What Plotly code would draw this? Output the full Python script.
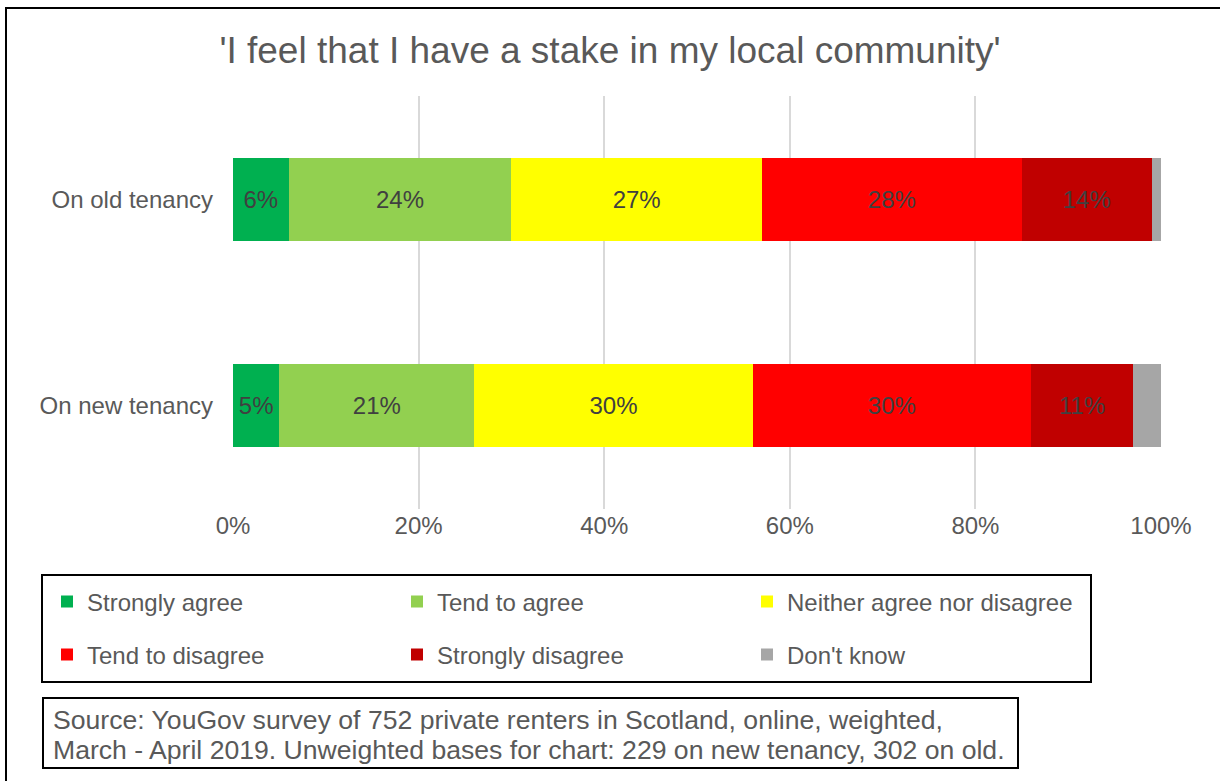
import plotly.graph_objects as go

# Survey responses (% of renters), by tenancy type
tenancies = ["On old tenancy", "On new tenancy"]
responses = ["Strongly agree", "Tend to agree", "Neither agree nor disagree",
             "Tend to disagree", "Strongly disagree", "Don't know"]
old_tenancy = [6, 24, 27, 28, 14, 1]
new_tenancy = [5, 21, 30, 30, 11, 3]
colours = ["#00B050", "#92D050", "#FFFF00", "#FF0000", "#C00000", "#A6A6A6"]
tick_values = [0, 20, 40, 60, 80, 100]
source_lines = [
    "Source: YouGov survey of 752 private renters in Scotland, online, weighted,",
    "March - April 2019. Unweighted bases for chart: 229 on new tenancy, 302 on old.",
]

W, H = 1220, 781
L, R, T, B = 233, 1161, 96, 509  # plot area in pixels
FONT = "Liberation Sans"
GREY = "#595959"


def px_x(p):
    return (p - L) / (R - L)


def px_y(p):
    return (B - p) / (B - T)


fig = go.Figure()
for i, name in enumerate(responses):
    vals = [old_tenancy[i], new_tenancy[i]]
    labels = [f"{v}%" for v in vals] if name != "Don't know" else ["", ""]
    fig.add_trace(go.Bar(
        name=name,
        y=tenancies,
        x=vals,
        orientation="h",
        marker=dict(color=colours[i], line=dict(width=0)),
        text=labels,
        textposition="inside",
        insidetextanchor="middle",
        textangle=0,
        constraintext="none",
        textfont=dict(family=FONT, size=24, color="#404040"),
        legend="legend" if i < 3 else "legend2",
        hoverinfo="skip",
    ))

legend_common = dict(
    orientation="h",
    xanchor="left",
    yanchor="middle",
    entrywidth=305,
    entrywidthmode="pixels",
    font=dict(family=FONT, size=24, color=GREY),
    bgcolor="rgba(0,0,0,0)",
    borderwidth=0,
    traceorder="normal",
    itemclick=False,
    itemdoubleclick=False,
)

shapes = [
    # outer chart border
    dict(type="rect", xref="paper", yref="paper",
         x0=px_x(6), x1=px_x(1240), y0=px_y(8), y1=px_y(800),
         line=dict(color="#000000", width=2), fillcolor="rgba(0,0,0,0)", layer="below"),
    # legend box
    dict(type="rect", xref="paper", yref="paper",
         x0=px_x(42), x1=px_x(1091), y0=px_y(575), y1=px_y(682),
         line=dict(color="#000000", width=2), fillcolor="rgba(0,0,0,0)"),
    # source note box
    dict(type="rect", xref="paper", yref="paper",
         x0=px_x(43), x1=px_x(1018), y0=px_y(698), y1=px_y(768),
         line=dict(color="#000000", width=2), fillcolor="rgba(0,0,0,0)"),
]

annotations = [
    dict(xref="paper", yref="paper",
         x=px_x(51), y=px_y(yc),
         xanchor="left", yanchor="middle", align="left",
         showarrow=False, text=line,
         font=dict(family=FONT, size=26.6, color=GREY))
    for line, yc in zip(source_lines, [720, 750])
]

fig.update_layout(
    width=W, height=H,
    margin=dict(l=L, r=W - R, t=T, b=H - B, autoexpand=False),
    paper_bgcolor="#FFFFFF",
    plot_bgcolor="#FFFFFF",
    barmode="stack",
    bargap=0.6,
    font=dict(family=FONT, color=GREY),
    title=dict(
        text="'I feel that I have a stake in my local community'",
        x=0.5, xanchor="center",
        y=1 - 50 / H, yanchor="middle",
        font=dict(family=FONT, size=37, color=GREY),
    ),
    xaxis=dict(
        range=[0, 100],
        tickvals=tick_values,
        ticktext=[f"{v}%" for v in tick_values],
        showgrid=True, gridcolor="#D9D9D9", gridwidth=2,
        zeroline=False, showline=False, ticks="",
        tickfont=dict(family=FONT, size=24, color=GREY),
        fixedrange=True,
    ),
    yaxis=dict(
        categoryorder="array",
        categoryarray=tenancies,
        autorange="reversed",
        showgrid=False, zeroline=False, showline=False, ticks="",
        tickfont=dict(family=FONT, size=24, color=GREY),
        ticklabelstandoff=19,
        fixedrange=True,
    ),
    legend=dict(x=px_x(47), y=px_y(602), **legend_common),
    legend2=dict(x=px_x(47), y=px_y(655), **legend_common),
    shapes=shapes,
    annotations=annotations,
)

fig.write_html("out.html")
